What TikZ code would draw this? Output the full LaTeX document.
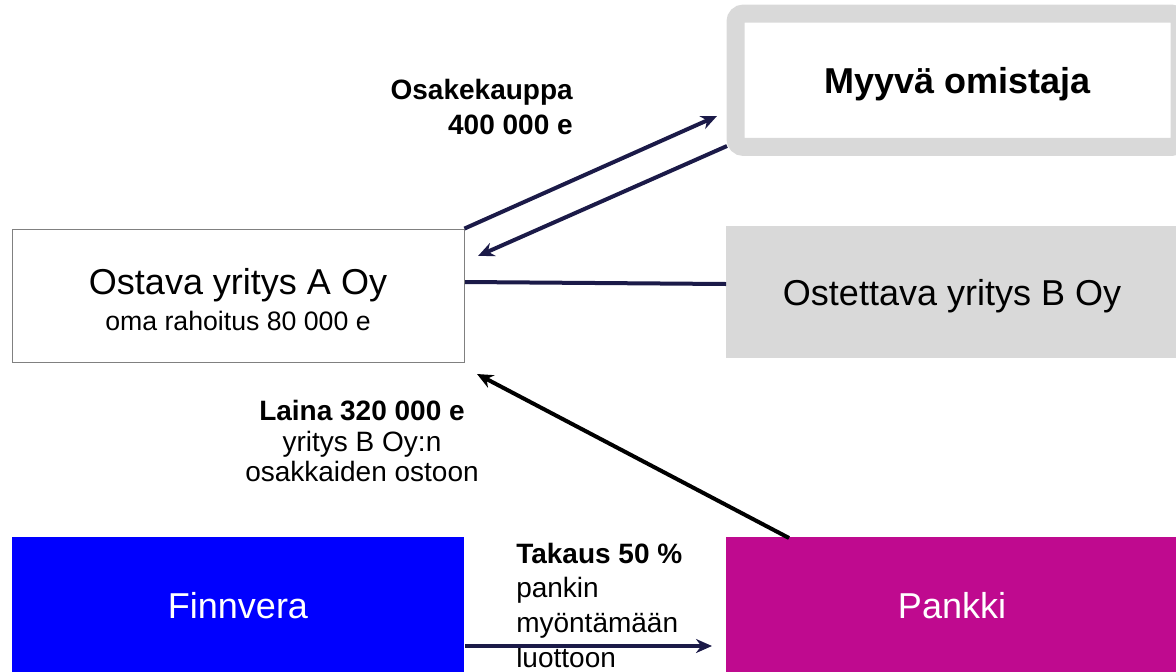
\documentclass[tikz,border=0pt]{standalone}
\usepackage{fontspec}
\setmainfont{Liberation Sans}
\usetikzlibrary{arrows.meta}
\definecolor{navy}{HTML}{1B1A48}
\definecolor{lightgrey}{HTML}{D9D9D9}
\definecolor{bankpink}{HTML}{BF0A8F}
\tikzstyle{company} = [rectangle, minimum width=339pt, minimum height=99.75pt, text centered, align=center, draw=black!50, line width=0.6pt, inner sep=0pt, font=\fontsize{27}{32}\selectfont]
\tikzstyle{target} = [rectangle, minimum width=339pt, minimum height=99pt, text centered, text depth=0pt, fill=lightgrey, font=\fontsize{27}{32}\selectfont]
\tikzstyle{owner} = [rectangle, rounded corners=6pt, minimum width=333pt, minimum height=100pt, text centered, text depth=0pt, draw=lightgrey, line width=13.5pt, fill=white, font=\fontsize{27}{32}\selectfont\bfseries]
\tikzstyle{finance} = [rectangle, minimum width=339pt, minimum height=103.5pt, text centered, text=white, font=\fontsize{27}{32}\selectfont]
\tikzstyle{note} = [inner sep=0pt, font=\fontsize{21}{26}\selectfont]
\tikzstyle{arrow} = [line width=3pt, draw=navy, -{Stealth[length=12pt, width=10.5pt]}]

\begin{document}
\begin{tikzpicture}[x=0.75pt, y=-0.75pt]
			\useasboundingbox (0,0) rectangle (1176,671);
			\node (myyva) [owner] at (957.5,80.25) {Myyvä omistaja};
			\node (ostava) [company] at (238,295.5) {\rule{0pt}{26pt}Ostava yritys A Oy\\[-5pt]{\fontsize{20}{24}\selectfont oma rahoitus 80 000 e}};
			\node (ostettava) [target] at (952,292) {Ostettava yritys B Oy};
			\node (finnvera) [finance, fill=blue] at (238,606) {Finnvera};
			\node (pankki) [finance, fill=bankpink] at (952,606) {Pankki};
			
			\node (kauppa) [note, anchor=east, align=right, font=\fontsize{21}{26}\selectfont\bfseries] at (573,107) {Osakekauppa\\400 000 e};
			\node (laina) [note, align=center, font=\fontsize{21}{23}\selectfont] at (362,441) {\textbf{Laina 320 000 e}\\yritys B Oy:n\\osakkaiden ostoon};
			\node (takaus) [note, anchor=west, align=left] at (516,605) {\textbf{Takaus 50 \%}\\pankin\\myöntämään\\luottoon};
			
			\coordinate (kauppaEnd) at (717,116);
			\coordinate (myyvaOut) at (727,146);
			\coordinate (ostavaIn) at (478,256);
			\coordinate (linkA) at (465,282);
			\coordinate (linkB) at (726,284);
			\coordinate (pankkiOut) at (789,538);
			\coordinate (lainaEnd) at (477,374);
			\coordinate (takausA) at (465,646);
			\coordinate (takausB) at (712,646);
			
			\draw [arrow] (ostava.north east) -- (kauppaEnd);
			\draw [arrow] (myyvaOut) -- (ostavaIn);
			\draw [line width=3pt, draw=navy] (linkA) -- (linkB);
			\draw [arrow, draw=black] (pankkiOut) -- (lainaEnd);
			\draw [arrow] (takausA) -- (takausB);
		\end{tikzpicture}
\end{document}
